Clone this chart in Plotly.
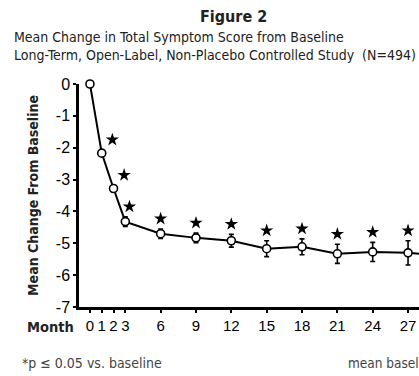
import plotly.graph_objects as go

months = [0, 1, 2, 3, 6, 9, 12, 15, 18, 21, 24, 27, 30]
mean_change = [0.0, -2.17, -3.28, -4.32, -4.70, -4.83, -4.92, -5.17, -5.11, -5.33, -5.27, -5.30, -5.40]
err = [0.0, 0.10, 0.10, 0.15, 0.15, 0.15, 0.20, 0.25, 0.25, 0.30, 0.30, 0.38, 0.38]
significant = [False, True, True, True, True, True, True, True, True, True, True, True, True]
tick_months = [0, 1, 2, 3, 6, 9, 12, 15, 18, 21, 24, 27]
y_ticks = [0, -1, -2, -3, -4, -5, -6, -7]

NARROW = "Liberation Sans Narrow, Arial Narrow, DejaVu Sans Condensed, sans-serif"
REG = "Liberation Sans, Arial, Helvetica, sans-serif"

W, H = 419, 376
L, R, T, B = 79, 0, 84, 69
pw, ph = W - L - R, H - T - B
def px(xp):
    return (xp - L) / pw
def py(yp):
    return 1 - (yp - T) / ph

# star placement (early stars sit to the right of the steep segment)
star_dx = {1: 0.9, 2: 0.9, 3: 0.35}
sx, sy = [], []
for m, v, e, s in zip(months, mean_change, err, significant):
    if s:
        sx.append(m + star_dx.get(m, 0))
        sy.append(v + e + 0.32)

fig = go.Figure()
fig.add_trace(go.Scatter(
    x=months, y=mean_change, mode="lines+markers",
    line=dict(color="black", width=2),
    marker=dict(symbol="circle", size=8, color="white", line=dict(color="black", width=1.6)),
    error_y=dict(type="data", array=err, visible=True, color="black", thickness=1.6, width=2.5),
    cliponaxis=False, showlegend=False, hoverinfo="skip"))
fig.add_trace(go.Scatter(
    x=sx, y=sy, mode="markers",
    marker=dict(symbol="star", size=10, color="black"),
    cliponaxis=False, showlegend=False, hoverinfo="skip"))

def ann(text, x, y, xanchor, size, color="#222", family=NARROW, align="left"):
    return dict(text=text, x=px(x), y=py(y), xref="paper", yref="paper",
                xanchor=xanchor, yanchor="middle", showarrow=False, align=align,
                font=dict(family=family, size=size, color=color))

fig.update_layout(
    width=W, height=H,
    margin=dict(l=L, r=R, t=T, b=B),
    paper_bgcolor="white", plot_bgcolor="white",
    xaxis=dict(range=[-0.93, 27.93], tickvals=tick_months, ticktext=[str(t) for t in tick_months],
               showline=True, linecolor="black", linewidth=2.5, showgrid=False, zeroline=False,
               ticks="outside", ticklen=3, tickwidth=2, tickcolor="black", automargin=False,
               tickfont=dict(family=REG, size=15, color="black")),
    yaxis=dict(range=[-7, 0], tickvals=y_ticks, ticktext=[str(t) for t in y_ticks],
               showline=True, linecolor="black", linewidth=2.5, showgrid=False, zeroline=False,
               ticks="outside", ticklen=3, tickwidth=2, tickcolor="black", automargin=False,
               tickfont=dict(family=REG, size=16, color="black"),
               title=dict(text="<b>Mean Change From Baseline</b>", standoff=14,
                          font=dict(family=NARROW, size=14, color="#222"))),
    annotations=[
        ann("<b>Figure 2</b>", 233, 16, "center", 16),
        ann("Mean Change in Total Symptom Score from Baseline<br>Long-Term, Open-Label, Non-Placebo Controlled Study  (N=494)",
            12, 46, "left", 14.0),
        ann("<b>Month</b>", 50, 327, "center", 14.5),
        ann("*p ≤ 0.05 vs. baseline", 20, 363, "left", 14, color="#444"),
        ann("mean baseline", 346, 363, "left", 13.5, color="#444"),
    ],
)

fig.write_html("out.html", config={"displayModeBar": False},
               post_script="document.body.style.margin='0';document.body.style.overflow='hidden';")
